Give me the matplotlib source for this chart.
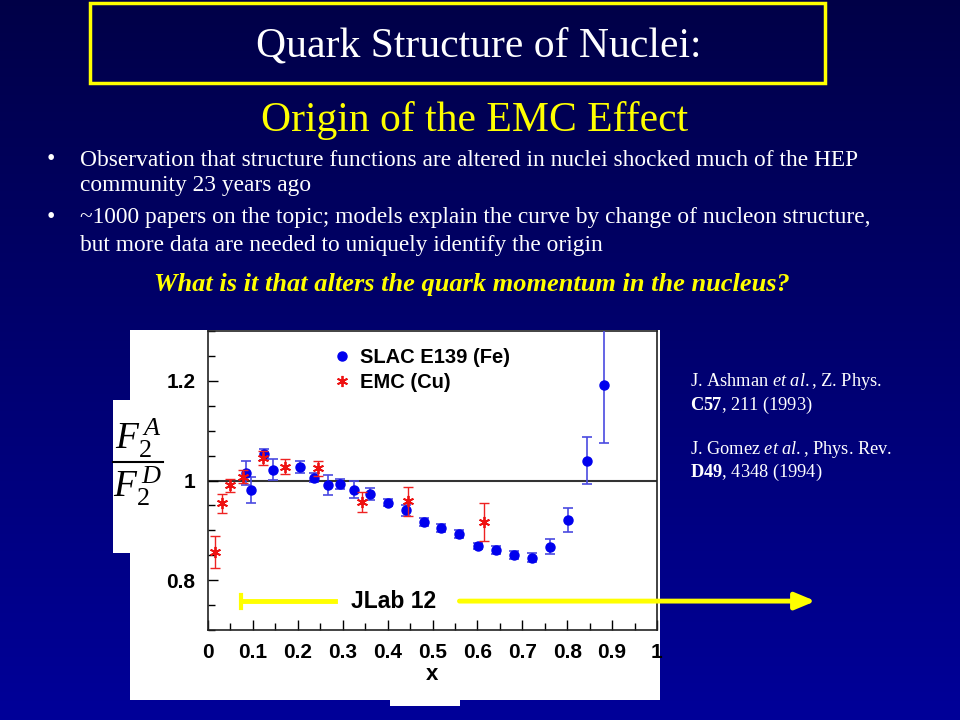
import matplotlib
matplotlib.use('Agg')
import matplotlib.pyplot as plt
import matplotlib.patches as mpatches
from matplotlib.lines import Line2D
from matplotlib.ticker import MultipleLocator, FuncFormatter
import numpy as np

# SLAC E139 (Fe)
slac_x = [0.085, 0.095, 0.125, 0.145, 0.206, 0.235, 0.267, 0.295, 0.326, 0.361, 0.401, 0.44,
          0.48, 0.52, 0.56, 0.601, 0.641, 0.681, 0.722, 0.762, 0.802, 0.843, 0.883]
slac_y = [1.015, 0.981, 1.053, 1.022, 1.027, 1.006, 0.991, 0.993, 0.981, 0.972, 0.955, 0.94,
          0.917, 0.904, 0.893, 0.869, 0.861, 0.851, 0.845, 0.867, 0.92, 1.04, 1.191]
slac_err = [0.025, 0.027, 0.011, 0.021, 0.012, 0.01, 0.021, 0.01, 0.017, 0.012, 0.007, 0.011,
            0.008, 0.008, 0.008, 0.006, 0.008, 0.008, 0.009, 0.015, 0.024, 0.047, 0.115]

# EMC (Cu)
emc_x = [0.016, 0.031, 0.050, 0.078, 0.123, 0.172, 0.244, 0.344, 0.446, 0.614]
emc_y = [0.857, 0.954, 0.990, 1.008, 1.045, 1.028, 1.025, 0.957, 0.958, 0.916]
emc_err = [0.032, 0.019, 0.014, 0.013, 0.014, 0.015, 0.015, 0.020, 0.029, 0.038]

title = 'Quark Structure of Nuclei:'
subtitle = 'Origin of the EMC Effect'
bullets = [['Observation that structure functions are altered in nuclei shocked much of the HEP',
            'community 23 years ago'],
           ['~1000 papers on the topic; models explain the curve by change of nucleon structure,',
            'but more data are needed to uniquely identify the origin']]
question = 'What is it that alters the quark momentum in the nucleus?'
refs = [r'J. Ashman $\mathit{et\ al.}$, Z. Phys.',
        r'$\mathbf{C57}$, 211 (1993)',
        r'J. Gomez $\mathit{et\ al.}$, Phys. Rev.',
        r'$\mathbf{D49}$, 4348 (1994)']

plt.rcParams['mathtext.fontset'] = 'custom'
plt.rcParams['mathtext.rm'] = 'Liberation Serif'
plt.rcParams['mathtext.it'] = 'Liberation Serif:italic'
plt.rcParams['mathtext.bf'] = 'Liberation Serif:bold'

W, H = 960, 720
fig = plt.figure(figsize=(9.6, 7.2), dpi=100)

def px(x, y):
    return (x / W, 1 - y / H)

# background gradient
bg = fig.add_axes([0, 0, 1, 1], zorder=-10)
grad = np.linspace(0, 1, 256).reshape(-1, 1)
top = np.array([0.0, 0.0, 0.28])
bot = np.array([0.0, 0.0, 0.60])
img = top + (bot - top) * grad[:, :, None]
bg.imshow(img, aspect='auto', extent=[0, 1, 0, 1])
bg.set_xlim(0, 1)
bg.set_ylim(0, 1)
bg.axis('off')

# title box
x0, y0 = px(90, 83)
x1, y1 = px(825, 3)
fig.patches.append(mpatches.Rectangle((x0, y0), x1 - x0, y1 - y0, transform=fig.transFigure,
                                      fill=False, edgecolor='#ffff00', linewidth=2.5, zorder=1))
serif = 'Liberation Serif'
fig.text(*px(479, 46), title, color='white', fontsize=30, family=serif, ha='center', va='center')
fig.text(*px(475, 120), subtitle, color='#ffff00', fontsize=30, family=serif, ha='center', va='center')

ys = [[160, 186], [218, 245]]
for lines, yy in zip(bullets, ys):
    fig.text(*px(47, yy[0]), '\u2022', color='white', fontsize=17, family=serif, ha='left', va='center')
    for t, y in zip(lines, yy):
        fig.text(*px(80, y), t, color='white', fontsize=16.8, family=serif, ha='left', va='center')
fig.text(*px(472, 285), question, color='#ffff00', fontsize=19, family=serif, fontweight='bold',
         style='italic', ha='center', va='center')

for t, y in zip(refs, [381, 405, 449, 472]):
    fig.text(*px(690, y), t, color='white', fontsize=13.2, family=serif, ha='left', va='center')

# white panels behind the plot
for (a, b, c, d) in [(130, 330, 660, 700), (113, 400, 130, 553), (390, 700, 460, 706)]:
    xa, ya = px(a, d)
    xb, yb = px(c, b)
    fig.patches.append(mpatches.Rectangle((xa, ya), xb - xa, yb - ya, transform=fig.transFigure,
                                          facecolor='white', edgecolor='none', zorder=2))

# ratio label
fig.text(*px(138, 438), r'$F_{2}^{\,A}$', fontsize=27, family=serif, ha='center', va='center', zorder=5)
fig.text(*px(138, 486), r'$F_{2}^{\,D}$', fontsize=27, family=serif, ha='center', va='center', zorder=5)
fig.lines.append(Line2D([113 / W, 163 / W], [1 - 462 / H, 1 - 462 / H], transform=fig.transFigure,
                        color='black', linewidth=1.5, zorder=5))

# plot
ax = fig.add_axes([208 / W, 1 - 630 / H, 449 / W, 299 / H], zorder=3)
ax.set_facecolor('white')
ax.set_xlim(0, 1)
ax.set_ylim(0.7, 1.3)
ax.axhline(1.0, color='#333333', linewidth=1.5, zorder=1)

ax.errorbar(slac_x, slac_y, yerr=slac_err, fmt='o', color='#0000ee', ecolor='#4a4ae0',
            markersize=6.5, elinewidth=1.2, capsize=3.5, capthick=1.2, zorder=3)
ax.errorbar(emc_x, emc_y, yerr=emc_err, fmt='none', ecolor='#ee2222',
            elinewidth=1.0, capsize=3.5, capthick=1.0, zorder=4)
ax.plot(emc_x, emc_y, linestyle='none', marker=(6, 2, 0), color='#ee1111', markersize=8,
        markeredgewidth=1.3, zorder=5)

handles = [Line2D([], [], linestyle='none', marker='o', color='#0000ee', markersize=6.5),
           Line2D([], [], linestyle='none', marker=(6, 2, 0), color='#ee1111', markersize=8,
                  markeredgewidth=1.3)]
leg = ax.legend(handles, ['SLAC E139 (Fe)', 'EMC (Cu)'], loc='upper left',
                bbox_to_anchor=((324 - 208) / 449, 1 - (340 - 331) / 299), frameon=False,
                handlelength=1.0, handletextpad=0.4, labelspacing=0.3, borderaxespad=0,
                prop={'family': 'Liberation Sans', 'weight': 'bold', 'size': 14.5})

ax.xaxis.set_major_locator(MultipleLocator(0.1))
ax.xaxis.set_minor_locator(MultipleLocator(0.05))
ax.yaxis.set_major_locator(MultipleLocator(0.2))
ax.yaxis.set_minor_locator(MultipleLocator(0.05))
fmt = FuncFormatter(lambda v, p: '%g' % round(v, 2))
ax.xaxis.set_major_formatter(fmt)
ax.yaxis.set_major_formatter(fmt)
ax.tick_params(which='both', direction='in', top=False, right=False, colors='black')
ax.tick_params(which='major', length=7, width=1, labelsize=15, pad=9)
ax.tick_params(which='minor', length=5, width=1)
for lab in ax.get_xticklabels() + ax.get_yticklabels():
    lab.set_family('Liberation Sans')
    lab.set_fontweight('bold')
for s in ax.spines.values():
    s.set_color('#222222')
    s.set_linewidth(1.2)
ax.set_xlabel('x', family='Liberation Sans', fontweight='bold', fontsize=16, labelpad=2)

# JLab 12 reach
ay = 0.758
ax.plot([0.073, 0.073], [0.745, 0.771], color='#ffff00', linewidth=3, zorder=6, clip_on=False)
ax.plot([0.073, 0.283], [ay, ay], color='#ffff00', linewidth=3.5, zorder=6, clip_on=False)
ax.text(0.414, ay, 'JLab 12', family='Liberation Sans', fontweight='bold', fontsize=16.5,
        ha='center', va='center', color='black', zorder=6)
ax.annotate('', xy=(1.353, ay), xytext=(0.56, ay), xycoords='data', annotation_clip=False,
            arrowprops=dict(arrowstyle='-|>,head_length=1.2,head_width=0.5', color='#ffff00',
                            linewidth=3.5, shrinkA=0, shrinkB=0), zorder=6)

fig.savefig('out.png', dpi=100)
